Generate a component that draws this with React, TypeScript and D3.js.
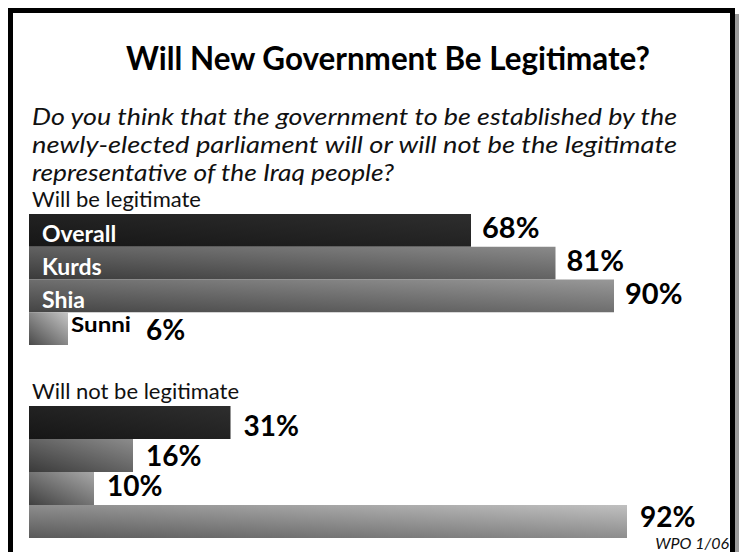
import React from "react";
import * as d3 from "d3";

const categories = ["Overall", "Kurds", "Shia", "Sunni"];
const legitValues = [68, 81, 90, 6];
const notLegitValues = [31, 16, 10, 92];
const title = "Will New Government Be Legitimate?";
const questionLines = [
  "Do you think that the government to be established by the",
  "newly-elected parliament will or will not be the legitimate",
  "representative of the Iraq people?",
];
const groupTitles = ["Will be legitimate", "Will not be legitimate"];
const source = "WPO 1/06";

const W = 739;
const H = 552;
const FONT = "Lato, 'Open Sans', sans-serif";

const legitColors: [string, string][] = [
  ["#161616", "#2e2e2e"],
  ["#3a3a3a", "#8a8a8a"],
  ["#444444", "#989898"],
  ["#4a4a4a", "#c6c6c6"],
];
const notLegitColors: [string, string][] = [
  ["#161616", "#2e2e2e"],
  ["#3a3a3a", "#8c8c8c"],
  ["#404040", "#a8a8a8"],
  ["#5a5a5a", "#c0c0c0"],
];

export default function App() {
  const x = d3.scaleLinear().domain([0, 100]).range([29, 679]);
  const y1 = d3.scaleBand<string>().domain(categories).range([214, 345]).padding(0);
  const y2 = d3.scaleBand<string>().domain(categories).range([406, 538]).padding(0);

  const grads = [
    ...legitColors.map((c, i) => ({ id: `g1-${i}`, c })),
    ...notLegitColors.map((c, i) => ({ id: `g2-${i}`, c })),
  ];

  return (
    <div style={{ position: "absolute", left: 0, top: 0, width: W, height: H, overflow: "hidden", background: "#fff" }}>
      <svg width={W} height={H} style={{ display: "block" }}>
        <defs>
          {grads.map((g) => (
            <linearGradient key={g.id} id={g.id} x1="0" y1="1" x2="1" y2="0">
              <stop offset="0" stopColor={g.c[0]} />
              <stop offset="1" stopColor={g.c[1]} />
            </linearGradient>
          ))}
        </defs>
        <rect x={0} y={0} width={W} height={H} fill="#fff" />
        {/* frame shadow */}
        <rect x={735} y={14} width={4} height={H} fill="#9a9a9a" />
        <rect x={10.5} y={10.5} width={722} height={H + 20} fill="none" stroke="#000" strokeWidth={5} />

        <text x={388} y={70} textAnchor="middle" fontFamily={FONT} fontWeight={700} fontSize={32} fill="#000"
          textLength={524} lengthAdjust="spacingAndGlyphs">
          {title}
        </text>
        {questionLines.map((t, i) => (
          <text key={i} x={32} y={125 + i * 28} fontFamily={FONT} fontStyle="italic" fontSize={24} fill="#111"
            textLength={i < 2 ? 645 : 362} lengthAdjust="spacingAndGlyphs">
            {t}
          </text>
        ))}
        <text x={32} y={207} fontFamily={FONT} fontSize={22} fill="#111">{groupTitles[0]}</text>
        <text x={32} y={399} fontFamily={FONT} fontSize={22} fill="#111">{groupTitles[1]}</text>

        {categories.map((c, i) => {
          const v = legitValues[i];
          const y0 = y1(c)!;
          const bh = y1.bandwidth();
          const inside = v > 15;
          return (
            <g key={"l" + c}>
              <rect x={x(0)} y={y0} width={x(v) - x(0)} height={bh} fill={`url(#g1-${i})`} />
              {inside ? (
                <>
                  <text x={x(0) + 13} y={y0 + 28} fontFamily={FONT} fontWeight={700} fontSize={23} fill="#fff">{c}</text>
                  <text x={x(v) + 11} y={y0 + 24} fontFamily={FONT} fontWeight={700} fontSize={29} fill="#000">{v}%</text>
                </>
              ) : (
                <>
                  <text x={x(v) + 3} y={y0 + 20} fontFamily={FONT} fontWeight={700} fontSize={21} fill="#000"
                    textLength={60} lengthAdjust="spacingAndGlyphs">{c}</text>
                  <text x={x(v) + 78} y={y0 + 28} fontFamily={FONT} fontWeight={700} fontSize={28} fill="#000">{v}%</text>
                </>
              )}
            </g>
          );
        })}

        {categories.map((c, i) => {
          const v = notLegitValues[i];
          const y0 = y2(c)!;
          return (
            <g key={"n" + c}>
              <rect x={x(0)} y={y0} width={x(v) - x(0)} height={y2.bandwidth()} fill={`url(#g2-${i})`} />
              <text x={x(v) + 13} y={y0 + 30 - i * 2.8} fontFamily={FONT} fontWeight={700} fontSize={28} fill="#000">{v}%</text>
            </g>
          );
        })}

        <text x={729} y={549} textAnchor="end" fontFamily={FONT} fontStyle="italic" fontSize={16} fill="#111">{source}</text>
      </svg>
    </div>
  );
}
